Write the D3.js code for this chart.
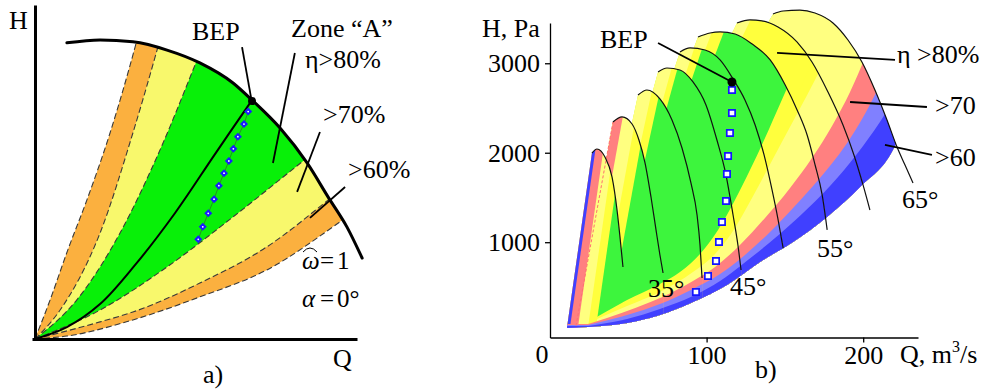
<!DOCTYPE html>
<html>
<head>
<meta charset="utf-8">
<script src="https://cdn.jsdelivr.net/npm/d3@7/dist/d3.min.js"></script>
<style>
  html, body { margin: 0; padding: 0; background: #ffffff; }
  svg { display: block; }
  text { font-family: "Liberation Serif", "Times New Roman", serif; fill: #000; }
</style>
</head>
<body>
<svg id="chart" width="982" height="389"></svg>
<script>
// ================= Panel a) data (normalised Q, H) =================
const aHeadCurve = [[0.099,0.900],[0.202,0.909],[0.304,0.903],[0.410,0.878],[0.512,0.839],[0.615,0.778],[0.674,0.726],[0.761,0.641],[0.845,0.535],[0.910,0.432],[0.969,0.340],[1.016,0.246]];
const aBoundary1 = [[0,0],[0.047,0.119],[0.102,0.271],[0.161,0.422],[0.233,0.626],[0.311,0.888],[0.329,0.954]];
const aBoundary2 = [[0,0],[0.078,0.088],[0.202,0.322],[0.304,0.626],[0.379,0.878],[0.398,0.945]];
const aBoundary3 = [[0,0],[0.130,0.119],[0.264,0.322],[0.388,0.574],[0.497,0.833],[0.522,0.894]];
const aBoundary4 = [[0,0],[0.202,0.088],[0.410,0.219],[0.615,0.371],[0.829,0.538],[0.916,0.605]];
const aBoundary5 = [[0,0],[0.202,0.052],[0.304,0.082],[0.512,0.170],[0.720,0.280],[0.910,0.422],[0.994,0.489]];
const aBoundary6 = [[0,0],[0.099,0.009],[0.304,0.058],[0.512,0.128],[0.720,0.210],[0.947,0.356],[1.040,0.422]];
const aBandZones = ["60","70","80","70","60","out"];
const aBepCurve = [[0,0],[0.099,0.036],[0.202,0.106],[0.311,0.225],[0.435,0.383],[0.559,0.562],[0.674,0.726]];
const aBepPoints = [[0.662,0.691],[0.649,0.653],[0.630,0.615],[0.616,0.578],[0.602,0.541],[0.587,0.504],[0.571,0.466],[0.556,0.425],[0.538,0.382],[0.521,0.341],[0.507,0.303]];
const aBep = [0.674,0.723];

// ================= Panel b) data (Q m3/s, H Pa) =================
const finAngles = [30,35,40,45,50,55,60,65];
const head30 = [[26.8,1997],[30.0,2042],[35.1,1952],[39.6,1729],[42.8,1360],[44.7,1058],[46.6,723]];
const head35 = [[40.2,2344],[46.0,2400],[52.4,2321],[56.8,2142],[60.7,1885],[64.5,1505],[67.7,1137],[70.2,857],[72.2,656]];
const head40 = [[56.2,2645],[61.9,2701],[70.2,2601],[77.9,2366],[84.3,2053],[90.0,1662],[93.9,1304],[95.8,969],[97.1,600]];
const head45 = [[69.0,2902],[74.7,2947],[83.0,2925],[91.3,2791],[99.6,2534],[106.6,2142],[112.4,1751],[116.9,1304],[120.0,969],[122.0,689]];
const head50 = [[83.0,3126],[89.4,3171],[99.0,3148],[108.6,3037],[116.9,2824],[124.5,2590],[131.0,2310],[136.7,1975],[141.8,1584],[145.7,1248],[148.9,935]];
const head55 = [[94.5,3294],[102.2,3338],[108.6,3350],[118.2,3327],[129.1,3215],[140.6,3037],[150.2,2757],[157.8,2478],[164.2,2198],[169.3,1863],[173.8,1528],[177.0,1137]];
const head60 = [[119.4,3450],[127.7,3484],[135.4,3473],[145.6,3405],[157.7,3238],[167.3,3014],[177.5,2679],[187.1,2310],[194.1,1975],[199.9,1640],[204.3,1360]];
const head65 = [[142.4,3551],[148.8,3584],[159.6,3595],[169.2,3562],[180.7,3450],[190.3,3260],[199.2,3014],[207.5,2701],[215.2,2366],[221.6,2064],[226.7,1863],[231.8,1662]];
const finHeads = [head30, head35, head40, head45, head50, head55, head60, head65];
const finStart = [[10.9,52],[16.6,64],[24.3,64],[24.3,64],[24.3,64],[24.3,64],[24.3,64],[24.3,64]];
const finStripZones = [["60","70","75","80"],["70","75","80"],["75","80"],["75","80"],["75","80"],["75","80"],["75","80"],["75"]];
const finStripEdges = [[1.9,7.0,13.4,18.5],[5.7,14.0,20.4],[8.3,13.4],[8.0,11.8],[8.3,13.4],[7.7,15.3],[7.7,60.7],[89.0]];

// iso-efficiency boundaries (region below-right of each gets the zone)
const bBottom = [[10.2,41],[24.3,52],[49.2,97],[70.2,186],[91.3,332],[113.0,522],[134.1,779],[155.2,1002],[176.9,1282],[198.0,1617],[219.0,2031],[229.9,2478],[239.5,2925]];
const b60 = [[24.3,64],[49.2,142],[70.2,254],[91.3,399],[108.6,567],[126.4,801],[143.7,1047],[160.9,1315],[178.8,1628],[196.0,1986],[210.7,2344],[223.5,2701]];
const b65 = [[24.3,75],[49.2,186],[70.2,309],[91.3,477],[108.6,645],[124.5,857],[140.5,1114],[156.4,1405],[172.4,1718],[188.4,2075],[201.8,2455],[212.0,2813],[221.6,3204]];
const b70 = [[24.3,86],[49.2,231],[70.2,376],[91.3,567],[105.4,723],[121.3,969],[137.3,1271],[153.3,1606],[167.3,1941],[180.1,2299],[191.6,2679],[201.8,3092],[210.7,3506]];
const b75 = [[24.3,97],[49.2,287],[70.2,444],[91.3,667],[105.4,868],[118.1,1159],[129.0,1494],[138.6,1807],[148.1,2120],[158.4,2455],[169.2,2813],[182.0,3260],[192.0,3600]];
const b80 = [[24.3,108],[49.2,354],[70.2,533],[83.0,667],[95.8,868],[107.3,1137],[118.1,1472],[127.7,1807],[137.3,2165],[146.9,2545],[157.1,2947],[167.3,3372],[176.0,3750]];

const bBepPoints = [[116.2,2701],[116.2,2444],[114.9,2221],[113.7,1964],[113.0,1762],[112.4,1461],[109.8,1226],[107.9,1002],[106.0,790],[100.9,622],[93.2,444]];
const bBep = [116.2,2791];
const bTicksQ = [100,200];
const bTicksH = [1000,2000,3000];

// ================= styles =================
const aZoneFill = {"80":"#08F008","70":"#F8F86C","60":"#FBB03F","out":"#FFFFFF"};
const bZoneFill = {"85":"#3DF53D","80":"#FFFF3D","75":"#FFFF80","70":"#FF8080","65":"#8080FF","60":"#4040FF"};
const FONT = 26;

const svg = d3.select('#chart');
const defs = svg.append('defs');

// ================= Panel a =================
const xA = d3.scaleLinear().domain([0,1]).range([35,357]);
const yA = d3.scaleLinear().domain([0,1.015]).range([339,5]);
const pA = d => [xA(d[0]), yA(d[1])];
const lineA = d3.line().x(d => xA(d[0])).y(d => yA(d[1])).curve(d3.curveMonotoneX);

const headPathA = lineA(aHeadCurve);
const lastA = aHeadCurve[aHeadCurve.length - 1];
defs.append('clipPath').attr('id','clipA').append('path')
  .attr('d', 'M' + pA([0,0]) + 'L' + pA([0, aHeadCurve[0][1]]) + 'L' + headPathA.slice(1)
    + 'L' + pA([1.5, lastA[1]]) + 'L' + pA([1.5, 0]) + 'Z');

const aBoundaries = [aBoundary1, aBoundary2, aBoundary3, aBoundary4, aBoundary5, aBoundary6];
const gA = svg.append('g').attr('clip-path','url(#clipA)');
aBoundaries.forEach((B, k) => {
  const last = B[B.length - 1];
  gA.append('path')
    .attr('d', lineA(B) + 'L' + pA([2, last[1]]) + 'L' + pA([2, -0.5]) + 'L' + pA([0, -0.5]) + 'Z')
    .attr('fill', aZoneFill[aBandZones[k]]);
});
aBoundaries.forEach(B => {
  gA.append('path').attr('d', lineA(B)).attr('fill','none')
    .attr('stroke','#3a3a3a').attr('stroke-width',1.1).attr('stroke-dasharray','6,3');
});

// BEP locus line
svg.append('path').attr('d', d3.line().x(d => xA(d[0])).y(d => yA(d[1])).curve(d3.curveCatmullRom)(aBepCurve))
  .attr('fill','none').attr('stroke','#000').attr('stroke-width',2);
// head curve
svg.append('path').attr('d', headPathA).attr('fill','none').attr('stroke','#000').attr('stroke-width',3).attr('stroke-linecap','round');
// diamonds
svg.append('path').attr('d', d3.line().x(d => xA(d[0])).y(d => yA(d[1]))(aBepPoints))
  .attr('fill','none').attr('stroke','#2a7a2a').attr('stroke-width',0.8);
svg.append('g').selectAll('path').data(aBepPoints).join('path')
  .attr('d', d3.symbol().type(d3.symbolSquare).size(32))
  .attr('transform', d => `translate(${xA(d[0])},${yA(d[1])}) rotate(45)`)
  .attr('fill','#1a1aff');
svg.append('g').selectAll('circle').data(aBepPoints).join('circle')
  .attr('cx', d => xA(d[0])).attr('cy', d => yA(d[1])).attr('r',0.9).attr('fill','#fff');
svg.append('circle').attr('cx', xA(aBep[0])).attr('cy', yA(aBep[1])).attr('r',4).attr('fill','#000');

// axes a
const axAy = svg.append('g').attr('transform',`translate(${xA(0)},0)`)
  .call(d3.axisLeft(yA).tickValues([]).tickSizeOuter(0));
axAy.select('.domain').attr('stroke','#000').attr('stroke-width',3);
const axAx = svg.append('g').attr('transform',`translate(0,${yA(0)})`)
  .call(d3.axisBottom(d3.scaleLinear().domain([-0.01,1]).range([32,357])).tickValues([]).tickSizeOuter(0));
axAx.select('.domain').attr('stroke','#000').attr('stroke-width',3);

// pointers a (data units)
const aPointers = [
  [[0.643,0.887],[0.672,0.728]],
  [[0.807,0.869],[0.739,0.535]],
  [[0.885,0.629],[0.814,0.447]],
  [[0.963,0.462],[0.854,0.368]]
];
aPointers.forEach(p => svg.append('line')
  .attr('x1', xA(p[0][0])).attr('y1', yA(p[0][1])).attr('x2', xA(p[1][0])).attr('y2', yA(p[1][1]))
  .attr('stroke','#000').attr('stroke-width',1.8));

function txt(x, y, s, opts = {}) {
  const t = svg.append('text').attr('x', x).attr('y', y).attr('font-size', opts.size || FONT).text(s);
  if (opts.anchor) t.attr('text-anchor', opts.anchor);
  if (opts.italic) t.attr('font-style','italic');
  return t;
}
txt(9, 29, 'H');
txt(192, 40, 'BEP');
txt(291, 37, 'Zone “A”');
txt(305, 68, 'η>80%');
txt(323, 123, '>70%');
txt(348, 178, '>60%');
txt(302, 269, 'ω', {italic:true, size:25});
svg.append('path').attr('d','M303,252 Q310,244 317,252').attr('fill','none').attr('stroke','#000').attr('stroke-width',1);
txt(320, 269, '=', {size:25});
txt(337, 269, '1', {size:25});
txt(302, 307, 'α', {italic:true, size:25});
txt(320, 307, '=', {size:25});
txt(337, 307, '0°', {size:25});
txt(333, 367, 'Q');
txt(203, 383, 'a)');

// ================= Panel b =================
const xB = d3.scaleLinear().domain([0,235]).range([550,918]);
const yB = d3.scaleLinear().domain([-65,3450]).range([337.5,23]);
const pB = d => [xB(d[0]), yB(d[1])];
const lineB = d3.line().x(d => xB(d[0])).y(d => yB(d[1])).curve(d3.curveMonotoneX);

// envelope clip (above the bottom boundary)
const lastBot = bBottom[bBottom.length - 1];
defs.append('clipPath').attr('id','envB').append('path')
  .attr('d', lineB(bBottom) + 'L' + pB([lastBot[0], 6000]) + 'L' + pB([-10, 6000]) + 'L' + pB([-10, bBottom[0][1]]) + 'Z');

function belowPath(G) {
  const first = G[0], last = G[G.length - 1];
  return lineB(G) + 'L' + pB([400, last[1]]) + 'L' + pB([400, -400]) + 'L' + pB([-10, -400]) + 'L' + pB([-10, first[1]]) + 'Z';
}
function leftOf(S, T, off) {
  const a = [S[0] + (S[0] - T[0]) * 0.3 + off, S[1] + (S[1] - T[1]) * 0.3];
  const b = [T[0] + (T[0] - S[0]) * 0.3 + off, T[1] + (T[1] - S[1]) * 0.3];
  return 'M' + [a, b, [b[0] - 300, b[1]], [a[0] - 300, a[1]]].map(pB).join('L') + 'Z';
}
function finPath(i) {
  const S = finStart[i], H = finHeads[i], E = H[H.length - 1];
  return 'M' + pB(S) + 'L' + lineB(H).slice(1) + 'L' + pB([E[0], -400]) + 'L' + pB([S[0], -400]) + 'Z';
}

const gFins = svg.append('g').attr('clip-path','url(#envB)');
for (let i = finHeads.length - 1; i >= 0; i--) {
  const fp = finPath(i);
  defs.append('clipPath').attr('id','fin' + i).append('path').attr('d', fp);
  const g = gFins.append('g').attr('clip-path', `url(#fin${i})`);
  g.append('path').attr('d', fp).attr('fill', bZoneFill["85"]);
  g.append('path').attr('d', belowPath(b80)).attr('fill', bZoneFill["80"]);
  g.append('path').attr('d', belowPath(b75)).attr('fill', bZoneFill["75"]);
  const S = finStart[i], T = finHeads[i][0];
  const edges = finStripEdges[i], zones = finStripZones[i];
  for (let k = edges.length - 1; k >= 0; k--) {
    g.append('path').attr('d', leftOf(S, T, edges[k])).attr('fill', bZoneFill[zones[k]]);
  }
  g.append('path').attr('d', belowPath(b70)).attr('fill', bZoneFill["70"]);
  g.append('path').attr('d', belowPath(b65)).attr('fill', bZoneFill["65"]);
  g.append('path').attr('d', belowPath(b60)).attr('fill', bZoneFill["60"]);
  if (i === 0) {
    gFins.append('line')
      .attr('x1', xB(finStart[1][0])).attr('y1', yB(finStart[1][1]))
      .attr('x2', xB(finHeads[1][0][0])).attr('y2', yB(finHeads[1][0][1]))
      .attr('stroke','#ff7070').attr('stroke-width',1).attr('stroke-dasharray','3,2');
  }
}
// head curves
finHeads.forEach(H => svg.append('path').attr('d', lineB(H)).attr('fill','none').attr('stroke','#111').attr('stroke-width',1.2));

// axes b
const axBy = svg.append('g').attr('transform',`translate(${xB(0)},0)`)
  .call(d3.axisLeft(yB).tickValues(bTicksH).tickSize(5).tickSizeOuter(0).tickPadding(5).tickFormat(d3.format('d')));
axBy.attr('font-size', FONT);
axBy.selectAll('line, .domain').attr('stroke','#000').attr('stroke-width',1.3);
const axBx = svg.append('g').attr('transform',`translate(0,${yB(-65)})`)
  .call(d3.axisBottom(xB).tickValues(bTicksQ).tickSize(5).tickSizeOuter(0).tickPadding(3).tickFormat(d3.format('d')));
axBx.attr('font-size', FONT);
axBx.selectAll('line, .domain').attr('stroke','#000').attr('stroke-width',1.3);

// BEP squares
svg.append('g').selectAll('path').data(bBepPoints).join('path')
  .attr('d', d3.symbol().type(d3.symbolSquare).size(40))
  .attr('transform', d => `translate(${xB(d[0])},${yB(d[1])})`)
  .attr('fill','#fff').attr('stroke','#1414ff').attr('stroke-width',1.7);

// pointers b
const bPointers = [
  [[69.0,3227], bBep],
  [[145.0,3115],[220.3,3037]],
  [[191.6,2567],[240.7,2511]],
  [[213.9,2087],[243.9,1975]]
];
bPointers.forEach(p => svg.append('line')
  .attr('x1', xB(p[0][0])).attr('y1', yB(p[0][1])).attr('x2', xB(p[1][0])).attr('y2', yB(p[1][1]))
  .attr('stroke','#000').attr('stroke-width',1.8));
svg.append('circle').attr('cx', xB(bBep[0])).attr('cy', yB(bBep[1])).attr('r',4.5).attr('fill','#000');

txt(482, 37, 'H, Pa');
txt(600, 48, 'BEP');
txt(897, 63, 'η >80%');
txt(935, 114, '>70');
txt(935, 166, '>60');
txt(902, 208, finAngles[7] + '°');
txt(817, 257, finAngles[5] + '°');
txt(730, 295, finAngles[3] + '°');
txt(648, 297, finAngles[1] + '°');
txt(542, 363, '0', {anchor:'middle'});
const qLab = txt(900, 363, 'Q, m');
qLab.append('tspan').attr('font-size',16).attr('dy',-11).text('3');
qLab.append('tspan').attr('dy',11).text('/s');
txt(755, 378, 'b)');
</script>
</body>
</html>
